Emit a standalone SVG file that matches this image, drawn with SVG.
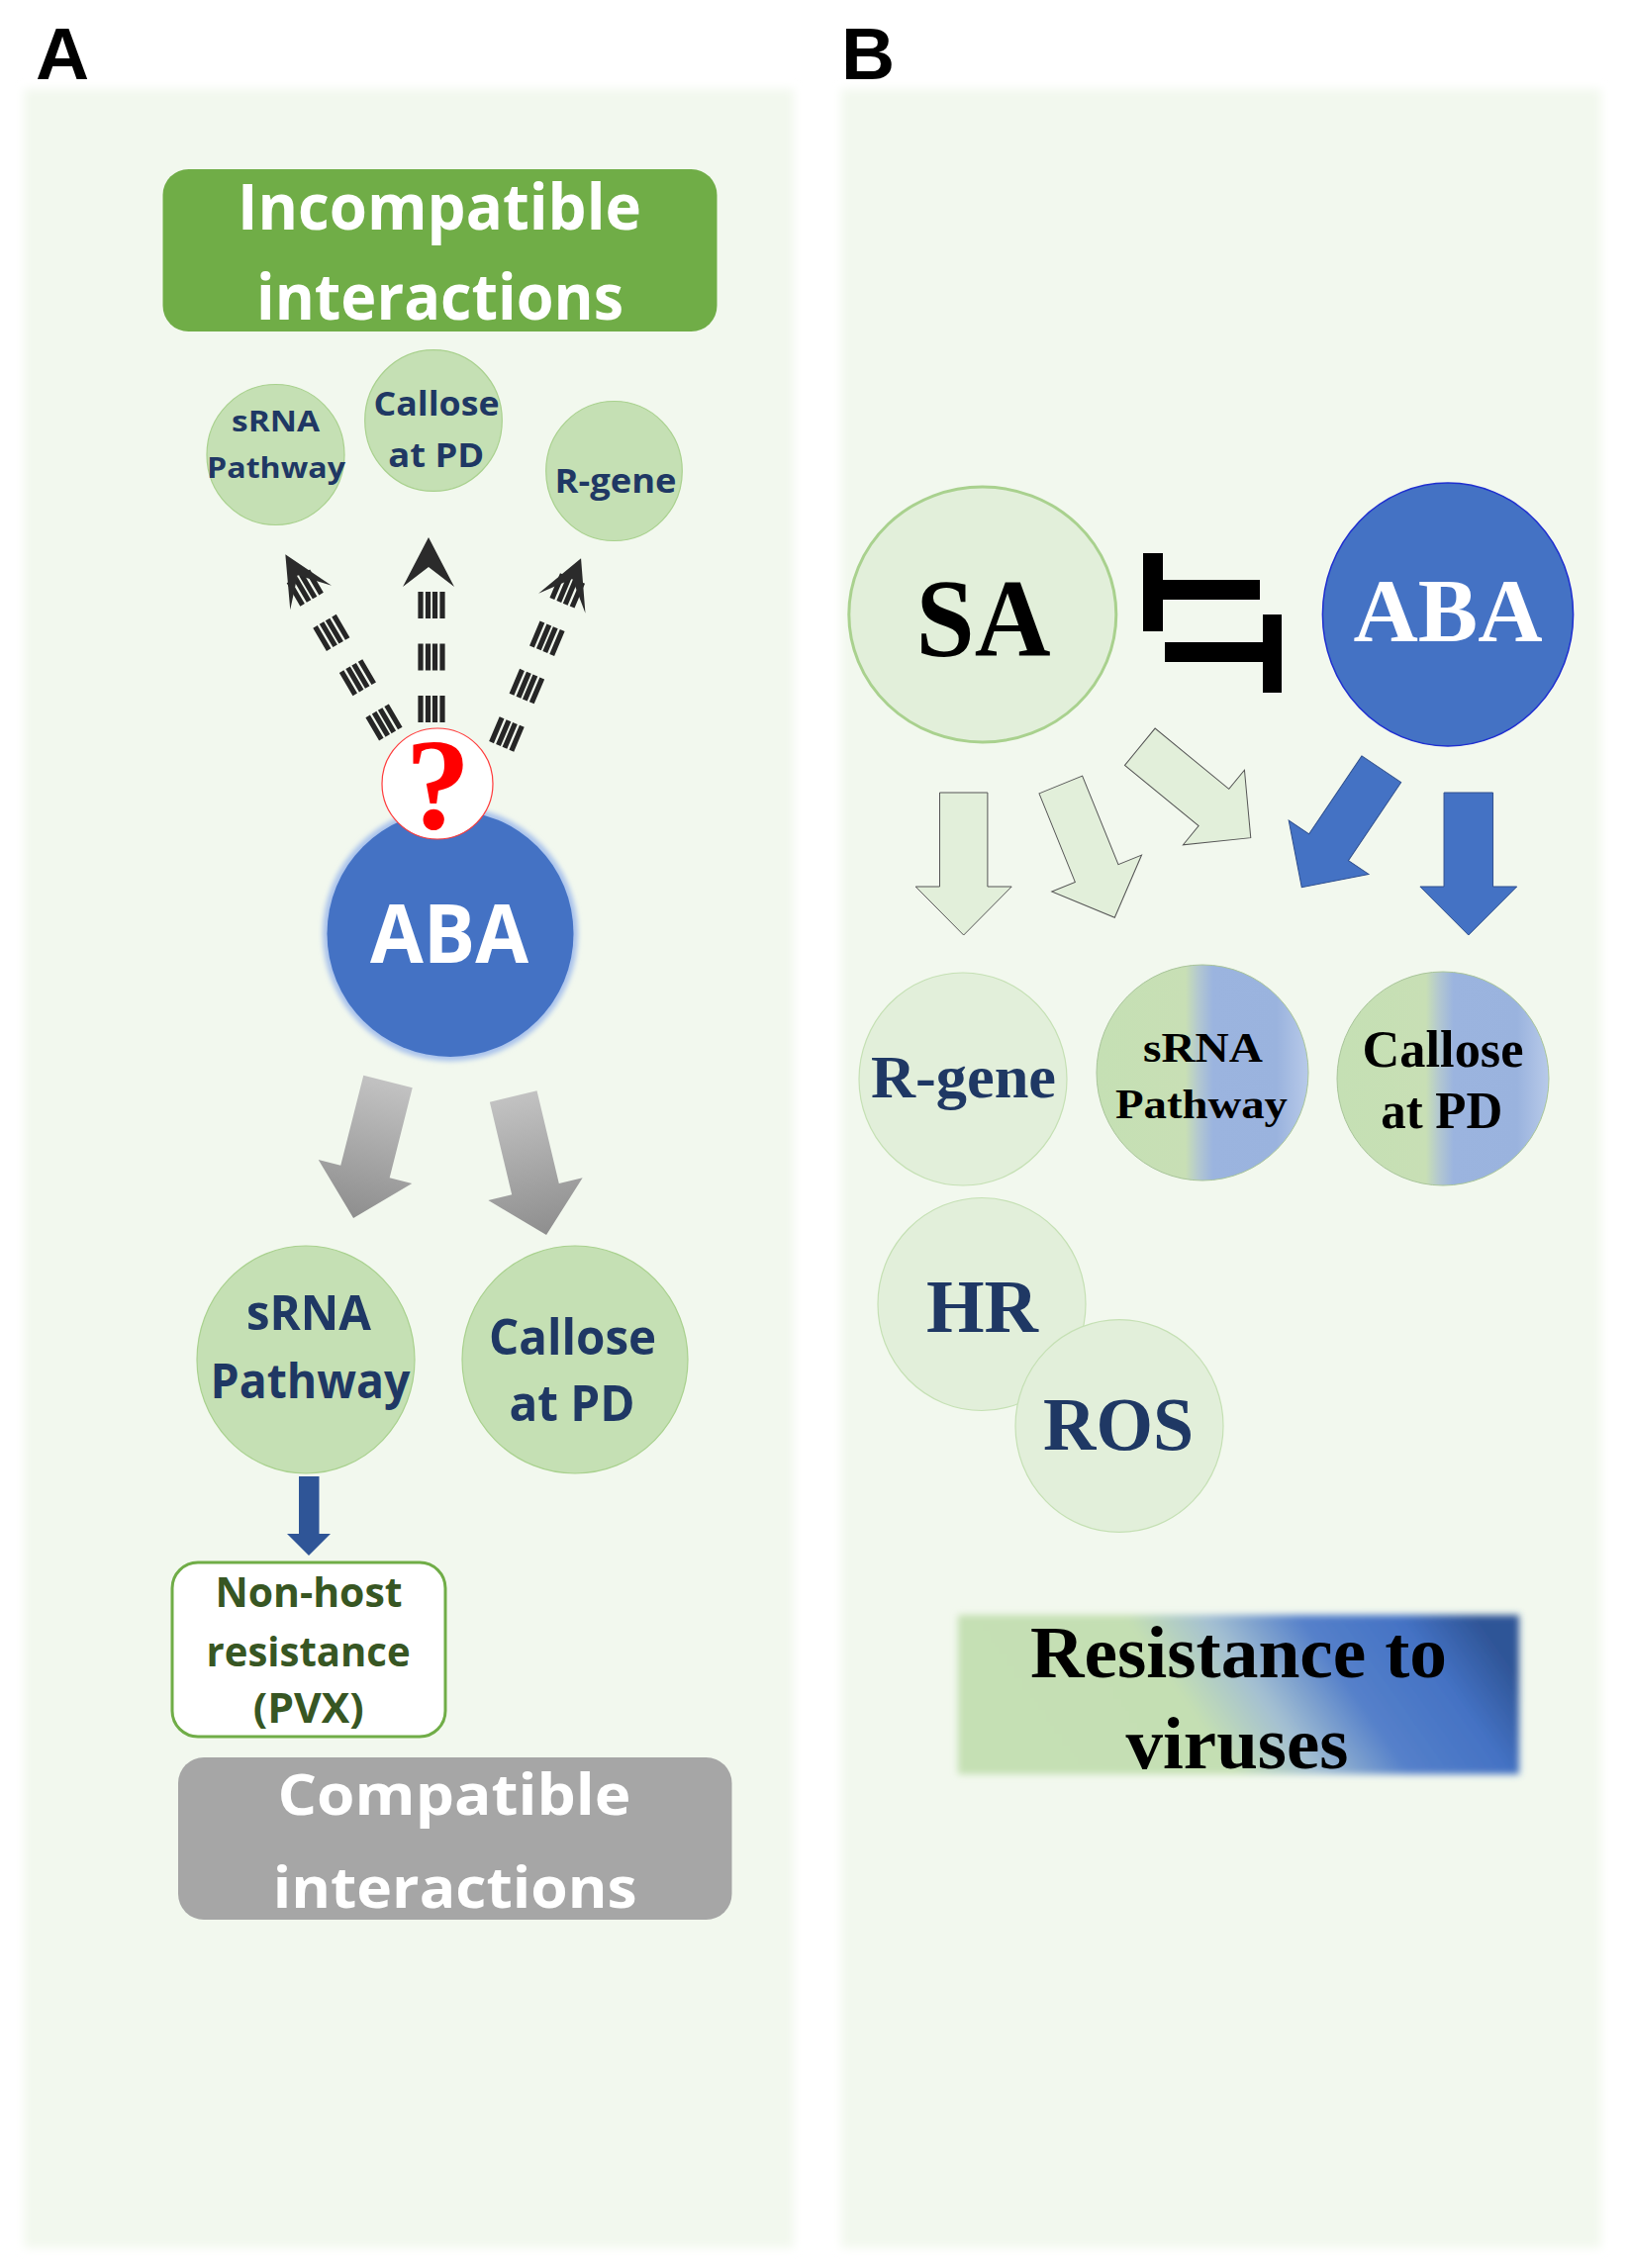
<svg xmlns="http://www.w3.org/2000/svg" width="1647" height="2292" viewBox="0 0 1647 2292">
<style>
.sans{font-family:"Open Sans","Liberation Sans",sans-serif;font-weight:bold;text-anchor:middle}
.serif{font-family:"Liberation Serif","Times New Roman",serif;font-weight:bold;text-anchor:middle}
.lbl{font-family:"Liberation Sans",Arial,sans-serif;font-weight:bold;font-size:75px;text-anchor:middle;fill:#000}
.navy{fill:#1f3864}
.cA{fill:#c5e0b4;stroke:#a9d18e;stroke-width:1.2}
.cB{fill:#e2efda;stroke:#c5e0b4;stroke-width:1.2}
.bars line{stroke:#262626;stroke-width:5.2;stroke-dasharray:27 25.5}
.dhead{fill:#2b2b2b}
.grayArrow{fill:url(#gGray)}
.gArrow{fill:#e2efda;stroke:#555;stroke-width:1}
.bArrow{fill:#4472c4;stroke:#2f4f8f;stroke-width:1}
.tbar{fill:#000}
</style>
<defs>
<filter id="soft" x="-5%" y="-5%" width="110%" height="110%"><feGaussianBlur stdDeviation="5"/></filter>
<filter id="soft2" x="-5%" y="-10%" width="110%" height="120%"><feGaussianBlur stdDeviation="3.5"/></filter>
<filter id="glow" x="-10%" y="-10%" width="120%" height="120%"><feGaussianBlur stdDeviation="2.5"/></filter>
<linearGradient id="gGray" x1="0" y1="0" x2="0" y2="1">
<stop offset="0" stop-color="#c2c2c2"/><stop offset="1" stop-color="#8e8e8e"/>
</linearGradient>
<linearGradient id="gMix" x1="0" y1="0" x2="1" y2="0">
<stop offset="0" stop-color="#c5e0b4"/><stop offset="0.42" stop-color="#c8dfb5"/><stop offset="0.48" stop-color="#b3c8d0"/><stop offset="0.55" stop-color="#9bb4df"/><stop offset="0.85" stop-color="#9ab3de"/><stop offset="1" stop-color="#b8cae9"/>
</linearGradient>
<linearGradient id="gRes" x1="0" y1="0.6" x2="1" y2="0.4">
<stop offset="0" stop-color="#c5e0b4"/><stop offset="0.4" stop-color="#c4dfb3"/><stop offset="0.54" stop-color="#a3bfd2"/><stop offset="0.7" stop-color="#5580ca"/><stop offset="0.87" stop-color="#4472c4"/><stop offset="1" stop-color="#2f5597"/>
</linearGradient>
</defs>

<rect x="0" y="0" width="1647" height="2292" fill="#ffffff"/>

<!-- panel backgrounds -->
<g id="panelA-bg"><rect x="24" y="90" width="778" height="2182" fill="#f2f8ee" filter="url(#soft)"/></g>
<g id="panelB-bg"><rect x="850" y="90" width="768" height="2182" fill="#f2f8ee" filter="url(#soft)"/></g>

<text class="lbl" x="63" y="80">A</text>
<text class="lbl" x="877" y="80">B</text>

<!-- connectors -->
<g id="connectors">
  <!-- panel A dashed arrows -->
  <g id="dash-left" transform="translate(394.8,741.6) rotate(-30.4)">
    <g class="bars"><line x1="-11" y1="0" x2="-11" y2="-185"/><line x1="-3.5" y1="0" x2="-3.5" y2="-185"/><line x1="3.5" y1="0" x2="3.5" y2="-185"/><line x1="11" y1="0" x2="11" y2="-185"/></g>
    <path class="dhead" d="M0,-210.4 L24.2,-159.4 L0,-186 L-24.2,-159.4 Z"/>
  </g>
  <g id="dash-center" transform="translate(436,730)">
    <g class="bars"><line x1="-11" y1="0" x2="-11" y2="-132"/><line x1="-3.5" y1="0" x2="-3.5" y2="-132"/><line x1="3.5" y1="0" x2="3.5" y2="-132"/><line x1="11" y1="0" x2="11" y2="-132"/></g>
    <path class="dhead" d="M-3,-187 L23,-137 L-3,-157 L-29,-137 Z"/>
  </g>
  <g id="dash-right" transform="translate(506.7,754.4) rotate(22.9)">
    <g class="bars"><line x1="-11" y1="0" x2="-11" y2="-185"/><line x1="-3.5" y1="0" x2="-3.5" y2="-185"/><line x1="3.5" y1="0" x2="3.5" y2="-185"/><line x1="11" y1="0" x2="11" y2="-185"/></g>
    <path class="dhead" d="M0,-206.5 L25.7,-157 L0,-184 L-25.7,-157 Z"/>
  </g>
  <!-- panel A gray block arrows -->
  <path class="grayArrow" transform="translate(392,1093) rotate(14.2)" d="M-25.5,0 L25.5,0 L25.5,93.9 L48.75,93.9 L0,142.4 L-48.75,93.9 L-25.5,93.9 Z"/>
  <path class="grayArrow" transform="translate(518.7,1108) rotate(-13.4)" d="M-24.5,0 L24.5,0 L24.5,96.2 L49,96.2 L0,143.9 L-49,96.2 L-24.5,96.2 Z"/>
  <!-- panel A small blue arrow -->
  <path fill="#2f5597" d="M302,1492 L322.5,1492 L322.5,1550 L334,1550 L312,1572 L290,1550 L302,1550 Z"/>

  <!-- panel B inhibition bars -->
  <g id="inhibit">
    <rect class="tbar" x="1155" y="559" width="20" height="79"/>
    <rect class="tbar" x="1175" y="586" width="98" height="20"/>
    <rect class="tbar" x="1177" y="649" width="99" height="20"/>
    <rect class="tbar" x="1276" y="621" width="19" height="79"/>
  </g>
  <!-- panel B block arrows -->
  <path class="gArrow" transform="translate(973.7,801)" d="M-24.2,0 L24.2,0 L24.2,95 L48.5,95 L0,144 L-48.5,95 L-24.2,95 Z"/>
  <path class="gArrow" transform="translate(1071.8,793) rotate(-22.1)" d="M-23.55,0 L23.55,0 L23.55,96.6 L49,96.6 L0,144.9 L-49,96.6 L-23.55,96.6 Z"/>
  <path class="gArrow" transform="translate(1151.8,754.7) rotate(-50.6)" d="M-24.1,0 L24.1,0 L24.1,96.6 L48.85,96.6 L0,144.9 L-48.85,96.6 L-24.1,96.6 Z"/>
  <path class="bArrow" transform="translate(1395.8,777.3) rotate(34)" d="M-23.95,0 L23.95,0 L23.95,95.2 L48.7,95.2 L0,144 L-48.7,95.2 L-23.95,95.2 Z"/>
  <path class="bArrow" transform="translate(1483.8,801)" d="M-24.75,0 L24.75,0 L24.75,95 L48.9,95 L0,144 L-48.9,95 L-24.75,95 Z"/>
</g>

<!-- Panel A nodes -->
<g id="incompatible">
  <rect x="164.5" y="171" width="560" height="164" rx="26" fill="#70ad47"/>
  <text class="sans" x="444" y="232" font-size="64" fill="#fff" textLength="408" lengthAdjust="spacingAndGlyphs">Incompatible</text>
  <text class="sans" x="444.5" y="323" font-size="64" fill="#fff" textLength="371" lengthAdjust="spacingAndGlyphs">interactions</text>
</g>
<g id="a-srna-top">
  <ellipse class="cA" cx="278.5" cy="459.5" rx="69.5" ry="71"/>
  <text class="sans navy" x="278.5" y="436" font-size="28" textLength="89" lengthAdjust="spacingAndGlyphs">sRNA</text>
  <text class="sans navy" x="279" y="483" font-size="28" textLength="140" lengthAdjust="spacingAndGlyphs">Pathway</text>
</g>
<g id="a-callose-top">
  <ellipse class="cA" cx="438" cy="425" rx="69.3" ry="71.4"/>
  <text class="sans navy" x="441" y="419.6" font-size="34" textLength="127" lengthAdjust="spacingAndGlyphs">Callose</text>
  <text class="sans navy" x="440.7" y="472" font-size="34" textLength="97" lengthAdjust="spacingAndGlyphs">at PD</text>
</g>
<g id="a-rgene-top">
  <ellipse class="cA" cx="620.5" cy="476" rx="68.8" ry="70.5"/>
  <text class="sans navy" x="622" y="498" font-size="34" textLength="123" lengthAdjust="spacingAndGlyphs">R-gene</text>
</g>
<g id="a-aba">
  <circle cx="455" cy="943.5" r="129" fill="#a9c2ec" filter="url(#glow)"/>
  <circle cx="455" cy="943.5" r="124.5" fill="#4472c4"/>
  <text class="sans" x="454" y="973" font-size="82" fill="#fff" textLength="160" lengthAdjust="spacingAndGlyphs">ABA</text>
</g>
<g id="a-question">
  <circle cx="442" cy="792" r="56" fill="#fff" stroke="#ff3b3b" stroke-width="1.2"/>
  <text x="442.5" y="837" font-family="Liberation Serif, serif" font-weight="bold" font-size="132" fill="#ff0000" text-anchor="middle">?</text>
</g>
<g id="a-srna-bottom">
  <ellipse class="cA" cx="309" cy="1374" rx="110" ry="115"/>
  <text class="sans navy" x="312" y="1344" font-size="49" textLength="126" lengthAdjust="spacingAndGlyphs">sRNA</text>
  <text class="sans navy" x="313.5" y="1413" font-size="49" textLength="202" lengthAdjust="spacingAndGlyphs">Pathway</text>
</g>
<g id="a-callose-bottom">
  <ellipse class="cA" cx="581" cy="1374" rx="114" ry="115"/>
  <text class="sans navy" x="578.6" y="1368.6" font-size="50" textLength="169" lengthAdjust="spacingAndGlyphs">Callose</text>
  <text class="sans navy" x="578" y="1435.8" font-size="50" textLength="127" lengthAdjust="spacingAndGlyphs">at PD</text>
</g>
<g id="a-nonhost">
  <rect x="174" y="1579" width="276" height="176" rx="26" fill="#fff" stroke="#70ad47" stroke-width="3"/>
  <text class="sans" x="312" y="1624" font-size="42" fill="#375623" textLength="189" lengthAdjust="spacingAndGlyphs">Non-host</text>
  <text class="sans" x="311.6" y="1684" font-size="42" fill="#375623" textLength="206" lengthAdjust="spacingAndGlyphs">resistance</text>
  <text class="sans" x="311.8" y="1741" font-size="42" fill="#375623" textLength="112" lengthAdjust="spacingAndGlyphs">(PVX)</text>
</g>
<g id="compatible">
  <rect x="180" y="1776" width="559.5" height="164" rx="26" fill="#a6a6a6"/>
  <text class="sans" x="459" y="1833.6" font-size="58" fill="#fff" textLength="357" lengthAdjust="spacingAndGlyphs">Compatible</text>
  <text class="sans" x="459.7" y="1928.3" font-size="58" fill="#fff" textLength="368" lengthAdjust="spacingAndGlyphs">interactions</text>
</g>

<!-- Panel B nodes -->
<g id="b-sa">
  <ellipse cx="992.8" cy="621" rx="135" ry="129" fill="#e2efda" stroke="#a9d18e" stroke-width="3"/>
  <text class="serif" x="993.6" y="662.7" font-size="112" fill="#000" textLength="136" lengthAdjust="spacingAndGlyphs">SA</text>
</g>
<g id="b-aba">
  <ellipse cx="1463" cy="621" rx="126.6" ry="133" fill="#4472c4" stroke="#1f2fd0" stroke-width="1.5"/>
  <text class="serif" x="1463" y="647.7" font-size="92" fill="#fff" textLength="191" lengthAdjust="spacingAndGlyphs">ABA</text>
</g>
<g id="b-rgene">
  <ellipse class="cB" cx="973" cy="1090.5" rx="105" ry="107.5"/>
  <text class="serif navy" x="973.5" y="1109" font-size="62" textLength="187" lengthAdjust="spacingAndGlyphs">R-gene</text>
</g>
<g id="b-srna">
  <ellipse cx="1215" cy="1084" rx="107" ry="109" fill="url(#gMix)" stroke="#a9c59a" stroke-width="1"/>
  <text class="serif" x="1215.5" y="1073.3" font-size="42" fill="#000" textLength="121" lengthAdjust="spacingAndGlyphs">sRNA</text>
  <text class="serif" x="1214" y="1130" font-size="42" fill="#000" textLength="174" lengthAdjust="spacingAndGlyphs">Pathway</text>
</g>
<g id="b-callose">
  <ellipse cx="1458" cy="1090" rx="107" ry="108" fill="url(#gMix)" stroke="#a9c59a" stroke-width="1"/>
  <text class="serif" x="1458" y="1078" font-size="53" fill="#000" textLength="163" lengthAdjust="spacingAndGlyphs">Callose</text>
  <text class="serif" x="1456.7" y="1140" font-size="53" fill="#000" textLength="123" lengthAdjust="spacingAndGlyphs">at PD</text>
</g>
<g id="b-hr">
  <ellipse class="cB" cx="992" cy="1318" rx="105" ry="107.5"/>
  <text class="serif navy" x="992.5" y="1346" font-size="77" textLength="113" lengthAdjust="spacingAndGlyphs">HR</text>
</g>
<g id="b-ros">
  <ellipse class="cB" cx="1131" cy="1441" rx="105" ry="107.4"/>
  <text class="serif navy" x="1130" y="1464.5" font-size="76" textLength="152" lengthAdjust="spacingAndGlyphs">ROS</text>
</g>
<g id="b-resistance">
  <rect x="968" y="1632" width="567" height="161" fill="url(#gRes)" filter="url(#soft2)"/>
  <text class="serif" x="1251.5" y="1695" font-size="75" fill="#000" textLength="421" lengthAdjust="spacingAndGlyphs">Resistance to</text>
  <text class="serif" x="1250" y="1787" font-size="75" fill="#000" textLength="225" lengthAdjust="spacingAndGlyphs">viruses</text>
</g>
</svg>
